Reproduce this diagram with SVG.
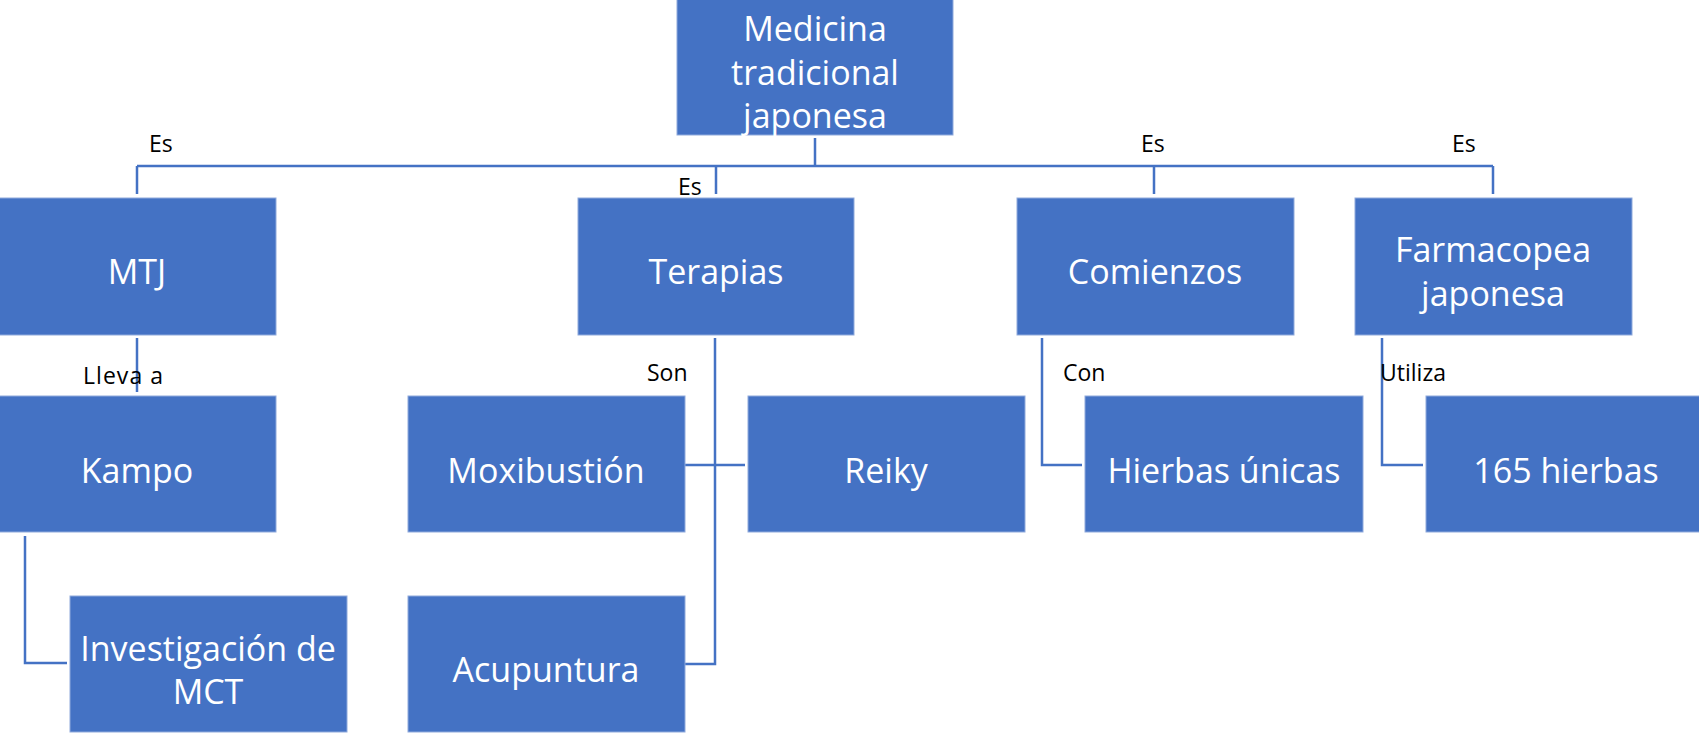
<svg xmlns="http://www.w3.org/2000/svg" width="1699" height="736" viewBox="0 0 1699 736">
<style>
.box{fill:#4472C4;stroke:#8FAADC;stroke-width:1}
.t{font-family:"Open Sans","Liberation Sans",sans-serif;font-size:34px;fill:#ffffff;text-anchor:middle}
.lbl{font-family:"Open Sans","Liberation Sans",sans-serif;font-size:23px;fill:#000000}
.c{fill:none;stroke:#4472C4;stroke-width:2.5}
</style>
<rect width="1699" height="736" fill="#ffffff"/>
<g id="connectors">
<path class="c" d="M815,138 V166 M137,166 H1493 M137,166 V194 M716,166 V194 M1154,166 V194 M1493,166 V194"/>
<path class="c" d="M137,338 V392"/>
<path class="c" d="M25,536 V663 H67"/>
<path class="c" d="M715,338 V664 H685 M685,465 H745"/>
<path class="c" d="M1042,338 V465 H1082"/>
<path class="c" d="M1382,338 V465 H1423"/>
</g>
<g id="labels">
<text class="lbl" x="149" y="152">Es</text>
<text class="lbl" x="678" y="195">Es</text>
<text class="lbl" x="1141" y="152">Es</text>
<text class="lbl" x="1452" y="152">Es</text>
<text class="lbl" x="83" y="384" textLength="80">Lleva a</text>
<text class="lbl" x="647" y="381">Son</text>
<text class="lbl" x="1063" y="381">Con</text>
<text class="lbl" x="1380" y="381">Utiliza</text>
</g>
<g id="root">
<rect class="box" x="677" y="-1" width="276" height="136"/>
<text class="t" x="815" y="41">Medicina</text>
<text class="t" x="815" y="85">tradicional</text>
<text class="t" x="815" y="128">japonesa</text>
</g>
<g id="mtj">
<rect class="box" x="-1" y="198" width="277" height="137"/>
<text class="t" x="137" y="284">MTJ</text>
</g>
<g id="terapias">
<rect class="box" x="578" y="198" width="276" height="137"/>
<text class="t" x="716" y="284">Terapias</text>
</g>
<g id="comienzos">
<rect class="box" x="1017" y="198" width="277" height="137"/>
<text class="t" x="1155" y="284">Comienzos</text>
</g>
<g id="farmacopea">
<rect class="box" x="1355" y="198" width="277" height="137"/>
<text class="t" x="1493" y="262">Farmacopea</text>
<text class="t" x="1493" y="306">japonesa</text>
</g>
<g id="kampo">
<rect class="box" x="-1" y="396" width="277" height="136"/>
<text class="t" x="137" y="483">Kampo</text>
</g>
<g id="investigacion">
<rect class="box" x="70" y="596" width="277" height="136"/>
<text class="t" x="208" y="661">Investigación de</text>
<text class="t" x="208" y="704">MCT</text>
</g>
<g id="moxibustion">
<rect class="box" x="408" y="396" width="277" height="136"/>
<text class="t" x="546" y="483">Moxibustión</text>
</g>
<g id="acupuntura">
<rect class="box" x="408" y="596" width="277" height="136"/>
<text class="t" x="546" y="682">Acupuntura</text>
</g>
<g id="reiky">
<rect class="box" x="748" y="396" width="277" height="136"/>
<text class="t" x="886" y="483">Reiky</text>
</g>
<g id="hierbas-unicas">
<rect class="box" x="1085" y="396" width="278" height="136"/>
<text class="t" x="1224" y="483">Hierbas únicas</text>
</g>
<g id="hierbas-165">
<rect class="box" x="1426" y="396" width="277" height="136"/>
<text class="t" x="1566" y="483">165 hierbas</text>
</g>
</svg>
